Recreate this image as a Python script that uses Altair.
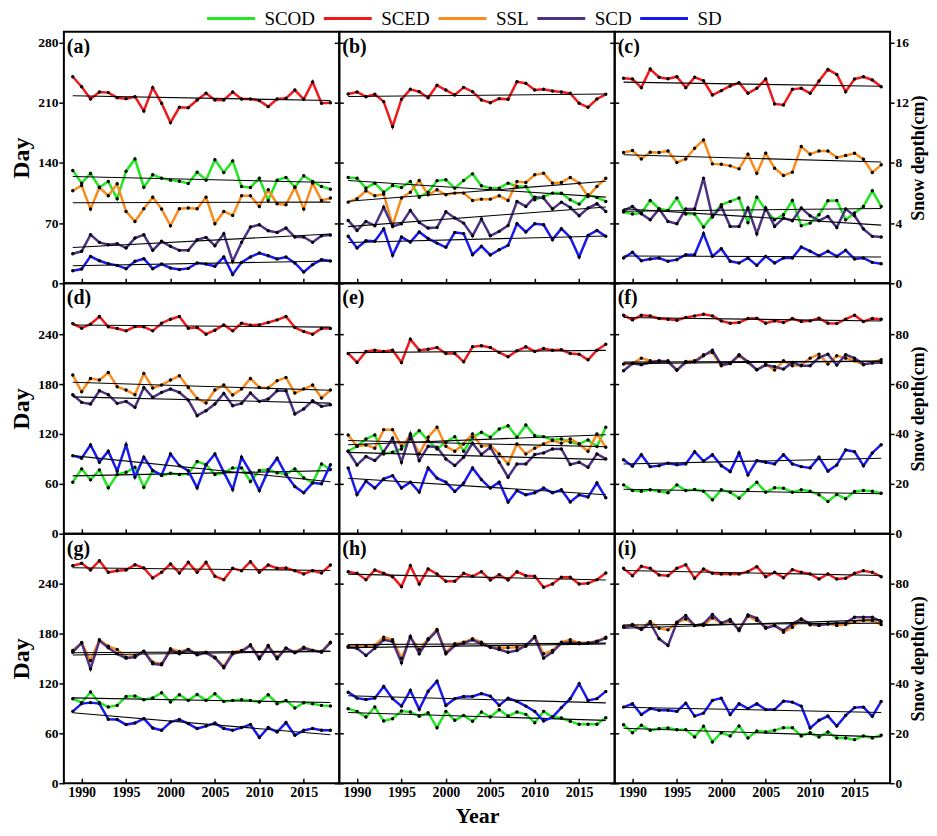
import altair as alt
import pandas as pd

YEARS = list(range(1989, 2019))
SERIES = ["SCOD", "SCED", "SSL", "SCD", "SD"]
COLORS = ["#22e622", "#f01818", "#fa8c1e", "#4c3282", "#1818f0"]
PANEL_KEYS = [["a", "b", "c"], ["d", "e", "f"], ["g", "h", "i"]]
X_TICKS = [1990, 1995, 2000, 2005, 2010, 2015]
DAY_TICKS = [[0, 70, 140, 210, 280], [0, 60, 120, 180, 240], [0, 60, 120, 180, 240]]
SD_TICKS = [[0, 4, 8, 12, 16], [0, 20, 40, 60, 80], [0, 20, 40, 60, 80]]
DAY_MAX = [292.5, 301.2, 300]
SD_MAX = [16.71, 100.4, 100]
ROW_H = [252, 251, 250]
COL_W = 276
FONT = "Liberation Serif"

# ---- panel (a)
a_SCOD = [131.2,116.5,127.7,111.8,118.4,98.3,130.4,144.7,111.8,126.2,122.3,120.0,118.8,116.1,129.3,120.0,143.6,128.9,142.4,112.6,111.5,122.3,96.4,120.0,123.1,111.8,125.0,118.4,112.6,109.5]
a_SCED = [240.3,228.7,214.4,222.5,221.8,215.9,214.8,217.1,200.5,227.6,209.4,186.9,204.7,204.3,213.2,221.0,213.2,213.2,222.5,214.4,214.4,212.5,205.5,214.4,215.2,224.8,214.0,234.1,209.4,210.1]
a_SSL = [107.6,113.8,86.3,111.5,101.8,115.7,83.6,72.0,86.7,100.2,86.3,67.0,86.7,87.5,86.7,100.2,69.3,83.6,78.9,101.8,101.8,89.4,108.7,92.5,91.3,111.8,86.3,116.5,96.4,99.1]
a_SCD = [34.4,37.2,56.5,47.6,44.9,46.1,41.0,52.6,56.5,38.3,48.8,43.0,38.3,38.3,50.7,53.4,43.7,57.7,25.5,47.6,65.4,68.1,61.1,59.2,64.2,53.8,53.8,47.6,55.3,56.1]
a_SD = [0.84,0.95,1.79,1.50,1.30,1.19,0.97,1.46,1.63,0.97,1.28,1.02,0.91,0.99,1.35,1.28,1.13,1.75,0.59,1.39,1.75,2.01,1.83,1.62,1.75,1.35,0.75,1.24,1.57,1.48]
# ---- panel (b)
b_SCOD = [123.1,122.3,110.7,116.5,106.0,113.8,111.5,118.4,100.2,106.0,119.2,120.4,110.7,119.6,127.3,113.4,110.7,110.7,116.5,112.6,112.6,97.1,101.0,104.9,104.9,97.1,92.1,102.9,99.8,95.2]
b_SCED = [220.2,222.5,217.1,219.8,211.3,182.3,214.0,225.6,222.9,215.9,230.3,224.8,219.0,227.9,222.9,213.2,210.1,214.8,214.0,234.5,232.6,224.8,225.6,223.7,222.5,221.0,209.4,204.7,214.4,219.8]
b_SSL = [94.4,98.3,107.6,101.8,103.7,67.3,99.1,106.0,119.6,102.9,108.7,102.9,104.9,104.9,96.4,97.9,97.9,101.8,96.4,118.4,117.3,126.2,128.1,116.5,117.3,123.1,116.5,101.0,112.6,122.3]
b_SCD = [73.1,61.5,72.0,67.0,88.6,66.2,69.3,84.8,70.8,64.2,65.0,83.2,75.9,70.0,55.3,74.7,55.3,60.4,67.3,95.2,89.4,100.2,99.1,86.3,94.4,88.2,78.6,87.5,92.5,83.6]
b_SD = [3.12,2.34,2.83,2.79,3.61,1.86,3.07,2.74,3.41,2.97,2.67,2.39,3.38,3.30,1.90,2.46,1.88,2.23,2.52,3.96,3.41,3.96,3.89,2.90,3.63,3.05,1.75,3.18,3.51,3.12]
# ---- panel (c)
c_SCOD = [82.8,80.5,81.7,96.4,86.7,84.8,99.1,80.5,80.5,65.4,78.9,91.3,95.2,99.1,70.8,100.2,85.5,73.9,79.7,96.4,67.0,70.0,79.7,96.0,96.4,73.9,81.7,89.4,107.6,89.4]
c_SCED = [238.4,237.6,227.6,249.2,239.6,238.0,240.3,227.6,239.6,235.7,219.0,224.1,229.5,233.4,221.0,226.8,237.6,208.6,207.4,225.6,226.8,221.0,235.3,248.8,243.0,222.9,237.6,240.3,236.5,228.7]
c_SSL = [152.1,154.4,144.7,152.5,152.1,154.0,140.5,144.7,157.1,166.8,138.9,138.5,136.6,133.1,150.2,128.1,151.3,133.9,125.4,129.3,159.1,150.2,154.0,154.0,146.3,148.6,151.3,144.4,128.9,137.8]
c_SCD = [84.4,89.4,80.9,73.9,86.3,72.0,69.3,86.3,86.3,122.3,77.0,89.4,66.2,66.2,87.5,57.7,87.5,66.2,75.9,72.8,87.5,78.6,72.8,77.8,65.0,86.3,78.6,63.1,54.6,53.8]
c_SD = [1.68,2.06,1.50,1.62,1.68,1.46,1.57,1.90,1.90,3.30,1.79,2.30,1.46,1.35,1.68,1.19,1.79,1.35,1.68,1.68,2.41,2.13,1.83,2.13,1.79,2.19,1.62,1.68,1.39,1.30]
# ---- panel (d)
d_SCOD = [62.0,78.0,64.8,76.8,55.2,71.2,74.0,80.0,56.0,76.0,70.0,72.8,71.2,72.0,86.8,83.2,71.2,73.2,79.2,79.2,62.8,76.0,77.2,73.2,72.0,78.0,67.2,61.2,84.0,77.2]
d_SCED = [252.8,247.2,252.0,261.2,248.8,246.8,244.0,249.2,248.8,244.0,253.2,258.0,261.2,247.2,248.0,240.0,244.8,251.2,244.0,253.2,250.8,251.2,254.0,257.2,261.2,248.0,243.2,240.0,246.8,246.8]
d_SSL = [190.8,170.8,186.8,184.8,194.0,176.8,172.8,167.2,192.8,175.2,178.8,184.8,190.0,176.0,162.8,157.2,172.8,178.8,166.8,174.0,186.8,176.0,175.2,184.0,188.0,169.2,174.0,178.8,163.2,172.8]
d_SCD = [167.2,158.0,156.0,172.0,167.2,156.8,159.2,152.0,176.0,164.0,170.0,174.0,170.0,160.8,142.0,148.0,156.0,168.8,154.0,156.8,169.2,159.2,162.0,172.0,172.0,144.0,150.0,160.0,153.2,155.2]
d_SD = [31.3,30.3,35.6,28.7,33.1,25.1,35.7,22.7,30.7,25.3,23.6,32.0,27.3,25.3,18.4,27.7,32.0,24.7,17.7,30.7,24.7,17.3,25.3,30.3,23.7,18.9,16.4,20.4,20.0,27.7]
# ---- panel (e)
e_SCOD = [99.2,105.2,114.0,118.8,96.0,98.0,102.0,114.0,124.0,112.0,102.0,110.0,116.8,99.2,116.0,122.0,116.0,126.0,130.0,116.0,130.8,118.0,116.8,112.8,114.0,110.0,108.0,112.8,104.8,128.0]
e_SCED = [216.8,206.0,219.2,220.8,219.2,220.8,206.0,234.0,220.8,222.0,224.0,216.8,216.8,206.8,224.8,226.0,224.0,218.0,212.8,220.0,224.8,219.2,222.8,220.8,221.2,216.8,216.0,209.2,220.8,228.0]
e_SSL = [118.8,105.2,106.8,102.8,125.2,125.2,105.2,118.0,96.0,116.0,128.0,105.2,99.2,108.0,120.0,105.2,106.0,96.0,84.0,108.0,96.0,102.8,108.0,112.0,108.8,114.0,108.0,99.2,120.0,104.0]
e_SCD = [99.2,82.8,92.8,88.0,98.8,114.8,86.0,120.0,88.0,105.2,104.0,90.0,82.0,92.0,108.8,95.2,104.0,86.0,68.0,84.0,84.0,95.2,97.2,102.0,102.0,83.2,86.0,80.0,96.0,90.0]
e_SD = [26.4,15.7,21.1,18.3,22.0,23.3,18.3,20.7,16.7,26.4,22.3,20.7,16.9,20.3,26.4,21.7,18.3,20.7,12.7,17.3,15.6,16.4,18.3,16.4,17.6,12.7,15.6,14.7,20.4,14.4]
# ---- panel (f)
f_SCOD = [58.8,52.0,51.2,52.8,51.2,49.2,58.8,52.0,53.2,51.2,40.8,52.8,50.0,42.8,52.8,62.0,50.0,55.2,54.8,50.0,52.8,51.2,46.8,38.8,47.2,42.0,50.8,52.0,51.2,48.8]
f_SCED = [262.8,257.2,262.8,262.0,258.8,258.0,256.8,260.0,262.0,264.0,262.0,256.0,253.2,254.0,258.8,259.2,253.2,256.0,254.0,258.8,255.2,256.0,259.2,253.2,252.8,258.0,262.8,255.2,258.8,258.0]
f_SSL = [204.0,204.8,211.2,208.0,207.2,208.0,196.8,207.2,208.0,215.2,218.0,202.0,204.8,214.0,206.0,197.2,204.0,196.8,208.0,202.0,202.8,211.2,216.0,204.0,214.0,211.2,208.0,203.2,206.0,209.2]
f_SCD = [196.0,204.8,203.2,206.0,208.0,206.8,196.8,206.0,206.8,214.0,220.8,203.2,204.8,215.2,206.8,197.2,202.8,200.8,198.0,206.0,202.0,202.0,212.0,216.0,202.8,215.2,211.2,204.0,205.2,206.0]
f_SD = [29.7,27.1,31.7,26.9,27.3,28.3,27.7,28.0,32.9,29.1,31.7,27.3,24.9,32.4,23.6,29.3,28.7,28.0,31.7,28.0,26.9,26.4,30.7,25.1,27.6,33.6,32.9,27.3,32.4,35.7]
# ---- panel (g)
g_SCOD = [101.6,96.8,109.6,96.8,91.6,93.6,104.4,104.8,100.4,102.4,108.8,97.6,106.4,99.6,106.8,99.6,107.6,98.4,99.6,100.4,99.6,97.6,106.4,95.6,99.6,90.4,96.8,95.6,93.6,92.8]
g_SCED = [261.6,264.4,256.4,267.6,253.6,255.6,256.4,262.8,258.8,246.8,253.6,263.6,252.8,265.6,253.6,265.6,248.8,244.8,258.4,255.6,266.4,253.6,262.4,258.4,258.8,255.6,251.6,255.6,252.8,262.4]
g_SSL = [159.6,168.8,147.6,172.4,164.8,160.8,151.6,153.6,158.4,145.6,143.6,161.6,158.4,160.8,155.6,157.6,151.6,140.4,157.6,159.6,166.4,151.6,165.6,151.6,162.4,157.6,163.6,159.6,158.4,169.6]
g_SCD = [157.6,168.8,137.6,171.6,162.8,155.6,150.4,151.6,158.8,143.6,142.4,160.4,155.6,160.8,154.4,156.8,150.8,138.8,155.6,158.4,165.6,149.6,164.8,149.6,162.4,156.8,162.4,159.6,157.6,168.8]
g_SD = [28.8,31.9,32.3,31.9,25.6,25.5,23.5,24.1,25.9,22.1,21.2,24.5,25.5,23.9,21.9,22.9,24.1,21.9,21.2,22.3,23.5,18.3,22.3,20.5,24.3,19.2,21.2,21.9,21.2,21.2]
# ---- panel (h)
h_SCOD = [89.6,86.4,79.6,91.6,74.8,77.6,86.8,85.6,80.4,84.8,66.8,86.4,75.6,81.6,74.4,85.6,79.6,88.4,80.8,85.6,82.8,72.8,86.4,79.6,78.4,74.4,70.8,70.8,70.8,78.8]
h_SCED = [254.4,252.4,244.8,256.4,252.4,248.4,236.4,261.6,239.6,257.6,251.6,242.8,242.8,252.4,248.8,254.4,244.4,250.8,244.4,254.4,249.6,248.8,235.6,239.6,247.6,247.6,239.6,240.4,244.8,252.8]
h_SSL = [164.8,165.6,164.8,165.6,175.6,172.4,150.4,175.6,160.8,173.6,184.8,157.6,167.6,169.6,173.6,169.6,163.6,162.8,162.8,163.6,164.8,176.4,155.6,159.6,169.6,172.4,168.8,168.8,170.8,175.6]
h_SCD = [163.6,162.4,153.6,162.4,172.4,170.4,144.8,176.4,155.6,172.4,183.6,155.6,165.6,168.4,172.4,167.6,163.6,160.8,157.6,159.6,165.6,175.6,150.4,157.6,168.4,169.6,167.6,168.4,170.4,174.4]
h_SD = [36.5,34.1,33.6,34.1,38.8,33.9,30.9,37.2,29.6,36.9,40.9,31.2,33.9,34.8,34.8,35.9,34.9,31.2,34.1,32.8,30.9,28.8,24.9,26.5,30.3,33.9,39.9,33.2,33.9,36.8]
# ---- panel (i)
i_SCOD = [70.4,60.8,69.6,63.6,65.6,66.4,64.4,64.4,55.6,68.4,49.6,60.8,56.8,68.8,54.4,62.8,61.6,63.6,66.8,66.8,56.8,60.8,55.6,61.6,54.4,54.4,52.4,56.8,54.4,57.6]
i_SCED = [258.4,249.6,260.8,258.4,250.4,249.6,258.4,262.8,246.4,257.6,252.4,251.6,251.6,251.6,254.4,260.4,248.4,253.6,247.2,256.8,253.6,251.6,245.6,251.6,245.6,246.4,252.4,255.6,253.6,248.4]
i_SSL = [188.8,190.8,186.4,194.4,186.4,184.4,192.8,197.6,189.6,189.6,198.8,192.4,194.4,185.6,200.8,195.6,187.6,189.6,181.6,187.6,196.8,190.4,189.6,191.6,189.6,190.8,194.4,195.6,195.6,190.8]
i_SCD = [187.6,189.6,184.8,192.8,173.6,165.6,193.6,201.6,189.6,191.6,202.8,192.4,196.8,183.6,202.4,198.4,186.4,189.6,183.6,191.6,197.6,191.6,190.4,191.6,192.4,192.8,199.6,199.6,199.6,194.4]
i_SD = [30.5,31.9,27.5,29.9,29.2,29.2,28.8,32.1,26.9,28.1,33.2,34.1,27.5,31.9,29.9,31.9,29.5,29.5,32.9,32.5,30.9,22.1,25.2,26.9,22.9,27.2,30.3,30.5,26.8,32.8]

DATA = {
    "a": (a_SCOD, a_SCED, a_SSL, a_SCD, a_SD),
    "b": (b_SCOD, b_SCED, b_SSL, b_SCD, b_SD),
    "c": (c_SCOD, c_SCED, c_SSL, c_SCD, c_SD),
    "d": (d_SCOD, d_SCED, d_SSL, d_SCD, d_SD),
    "e": (e_SCOD, e_SCED, e_SSL, e_SCD, e_SD),
    "f": (f_SCOD, f_SCED, f_SSL, f_SCD, f_SD),
    "g": (g_SCOD, g_SCED, g_SSL, g_SCD, g_SD),
    "h": (h_SCOD, h_SCED, h_SSL, h_SCD, h_SD),
    "i": (i_SCOD, i_SCED, i_SSL, i_SCD, i_SD),
}

color = alt.Color("series:N", scale=alt.Scale(domain=SERIES, range=COLORS), title=None)

AX = dict(domain=False, grid=False, tickColor="black", tickWidth=1.5, tickSize=5,
          labelFont=FONT, labelFontWeight="bold", labelFontSize=13.5, labelColor="black",
          titleFont=FONT, titleFontWeight="bold", titleColor="black")


def make_panel(r, c):
    key = PANEL_KEYS[r][c]
    scod, sced, ssl, scd, sd = DATA[key]
    rows = []
    for name, vals in zip(SERIES[:4], (scod, sced, ssl, scd)):
        for yr, v in zip(YEARS, vals):
            rows.append({"year": yr, "value": v, "series": name})
    day_df = pd.DataFrame(rows)
    sd_df = pd.DataFrame({"year": YEARS, "value": sd, "series": ["SD"] * 30})

    xsc = alt.Scale(domain=[1988, 2019], nice=False, zero=False)
    xax = dict(AX, values=X_TICKS, format="d", labels=(r == 2), offset=-5, labelPadding=2,
               labelFlush=False, labelFontSize=14)
    if r == 2 and c == 1:
        xax.update(title="Year", titleFontSize=22, titlePadding=6)
        x = alt.X("year:Q", scale=xsc, axis=alt.Axis(**xax))
    else:
        x = alt.X("year:Q", scale=xsc, axis=alt.Axis(**xax), title=None)

    ysc = alt.Scale(domain=[0, DAY_MAX[r]], nice=False)
    yax = dict(AX, orient="left", values=DAY_TICKS[r], labels=(c == 0), labelPadding=1)
    if c == 0:
        yax.update(title="Day", titleFontSize=24, titlePadding=4)
        yl = alt.Y("value:Q", scale=ysc, axis=alt.Axis(**yax))
    else:
        yl = alt.Y("value:Q", scale=ysc, axis=alt.Axis(**yax), title=None)

    rsc = alt.Scale(domain=[0, SD_MAX[r]], nice=False)
    rax = dict(AX, orient="right", values=SD_TICKS[r], labels=(c == 2), labelPadding=1, tickSize=4)
    if c == 2:
        rax.update(title="Snow depth(cm)", titleFontSize=18, titlePadding=1,
                   titleAngle=270, titleBaseline="top")
        yr_ = alt.Y("value:Q", scale=rsc, axis=alt.Axis(**rax))
    else:
        yr_ = alt.Y("value:Q", scale=rsc, axis=alt.Axis(**rax), title=None)

    dbase = alt.Chart(day_df).encode(x=x, y=yl)
    d_line = dbase.mark_line(strokeWidth=2.5).encode(color=color, detail="series:N")
    d_pts = dbase.mark_circle(size=12, color="black", opacity=1)
    d_trend = dbase.transform_regression("year", "value", groupby=["series"]).mark_line(
        color="black", strokeWidth=1.1).encode(detail="series:N")
    left = alt.layer(d_line, d_pts, d_trend)

    sbase = alt.Chart(sd_df).encode(x=x, y=yr_)
    s_line = sbase.mark_line(strokeWidth=2.5).encode(color=color)
    s_pts = sbase.mark_circle(size=12, color="black", opacity=1)
    s_trend = sbase.transform_regression("year", "value").mark_line(color="black", strokeWidth=1.1)
    right = alt.layer(s_line, s_pts, s_trend)

    lab = alt.Chart(pd.DataFrame({"t": [f"({key})"]})).mark_text(
        align="left", baseline="top", font=FONT, fontSize=20, fontWeight="bold", color="black"
    ).encode(text="t:N", x=alt.value(3), y=alt.value(5))

    return alt.layer(left, right, lab).resolve_scale(y="independent").properties(
        width=COL_W, height=ROW_H[r])


panels = [make_panel(r, c) for r in range(3) for c in range(3)]
chart = alt.concat(*panels, columns=3, spacing=0, bounds="flush").properties(
    padding={"left": 0, "top": 0, "right": 0, "bottom": 0}
).configure_view(stroke="black", strokeWidth=2).configure_legend(
    orient="none", legendX=158, legendY=-23, direction="horizontal", padding=0,
    gridAlign="each", symbolType="M-4,0L4,0", symbolSize=144, symbolStrokeWidth=3,
    labelFont=FONT, labelFontSize=19, labelColor="black", columnPadding=2, labelOffset=24
)

chart.save("out.html", embed_options={"renderer": "svg", "actions": False})
